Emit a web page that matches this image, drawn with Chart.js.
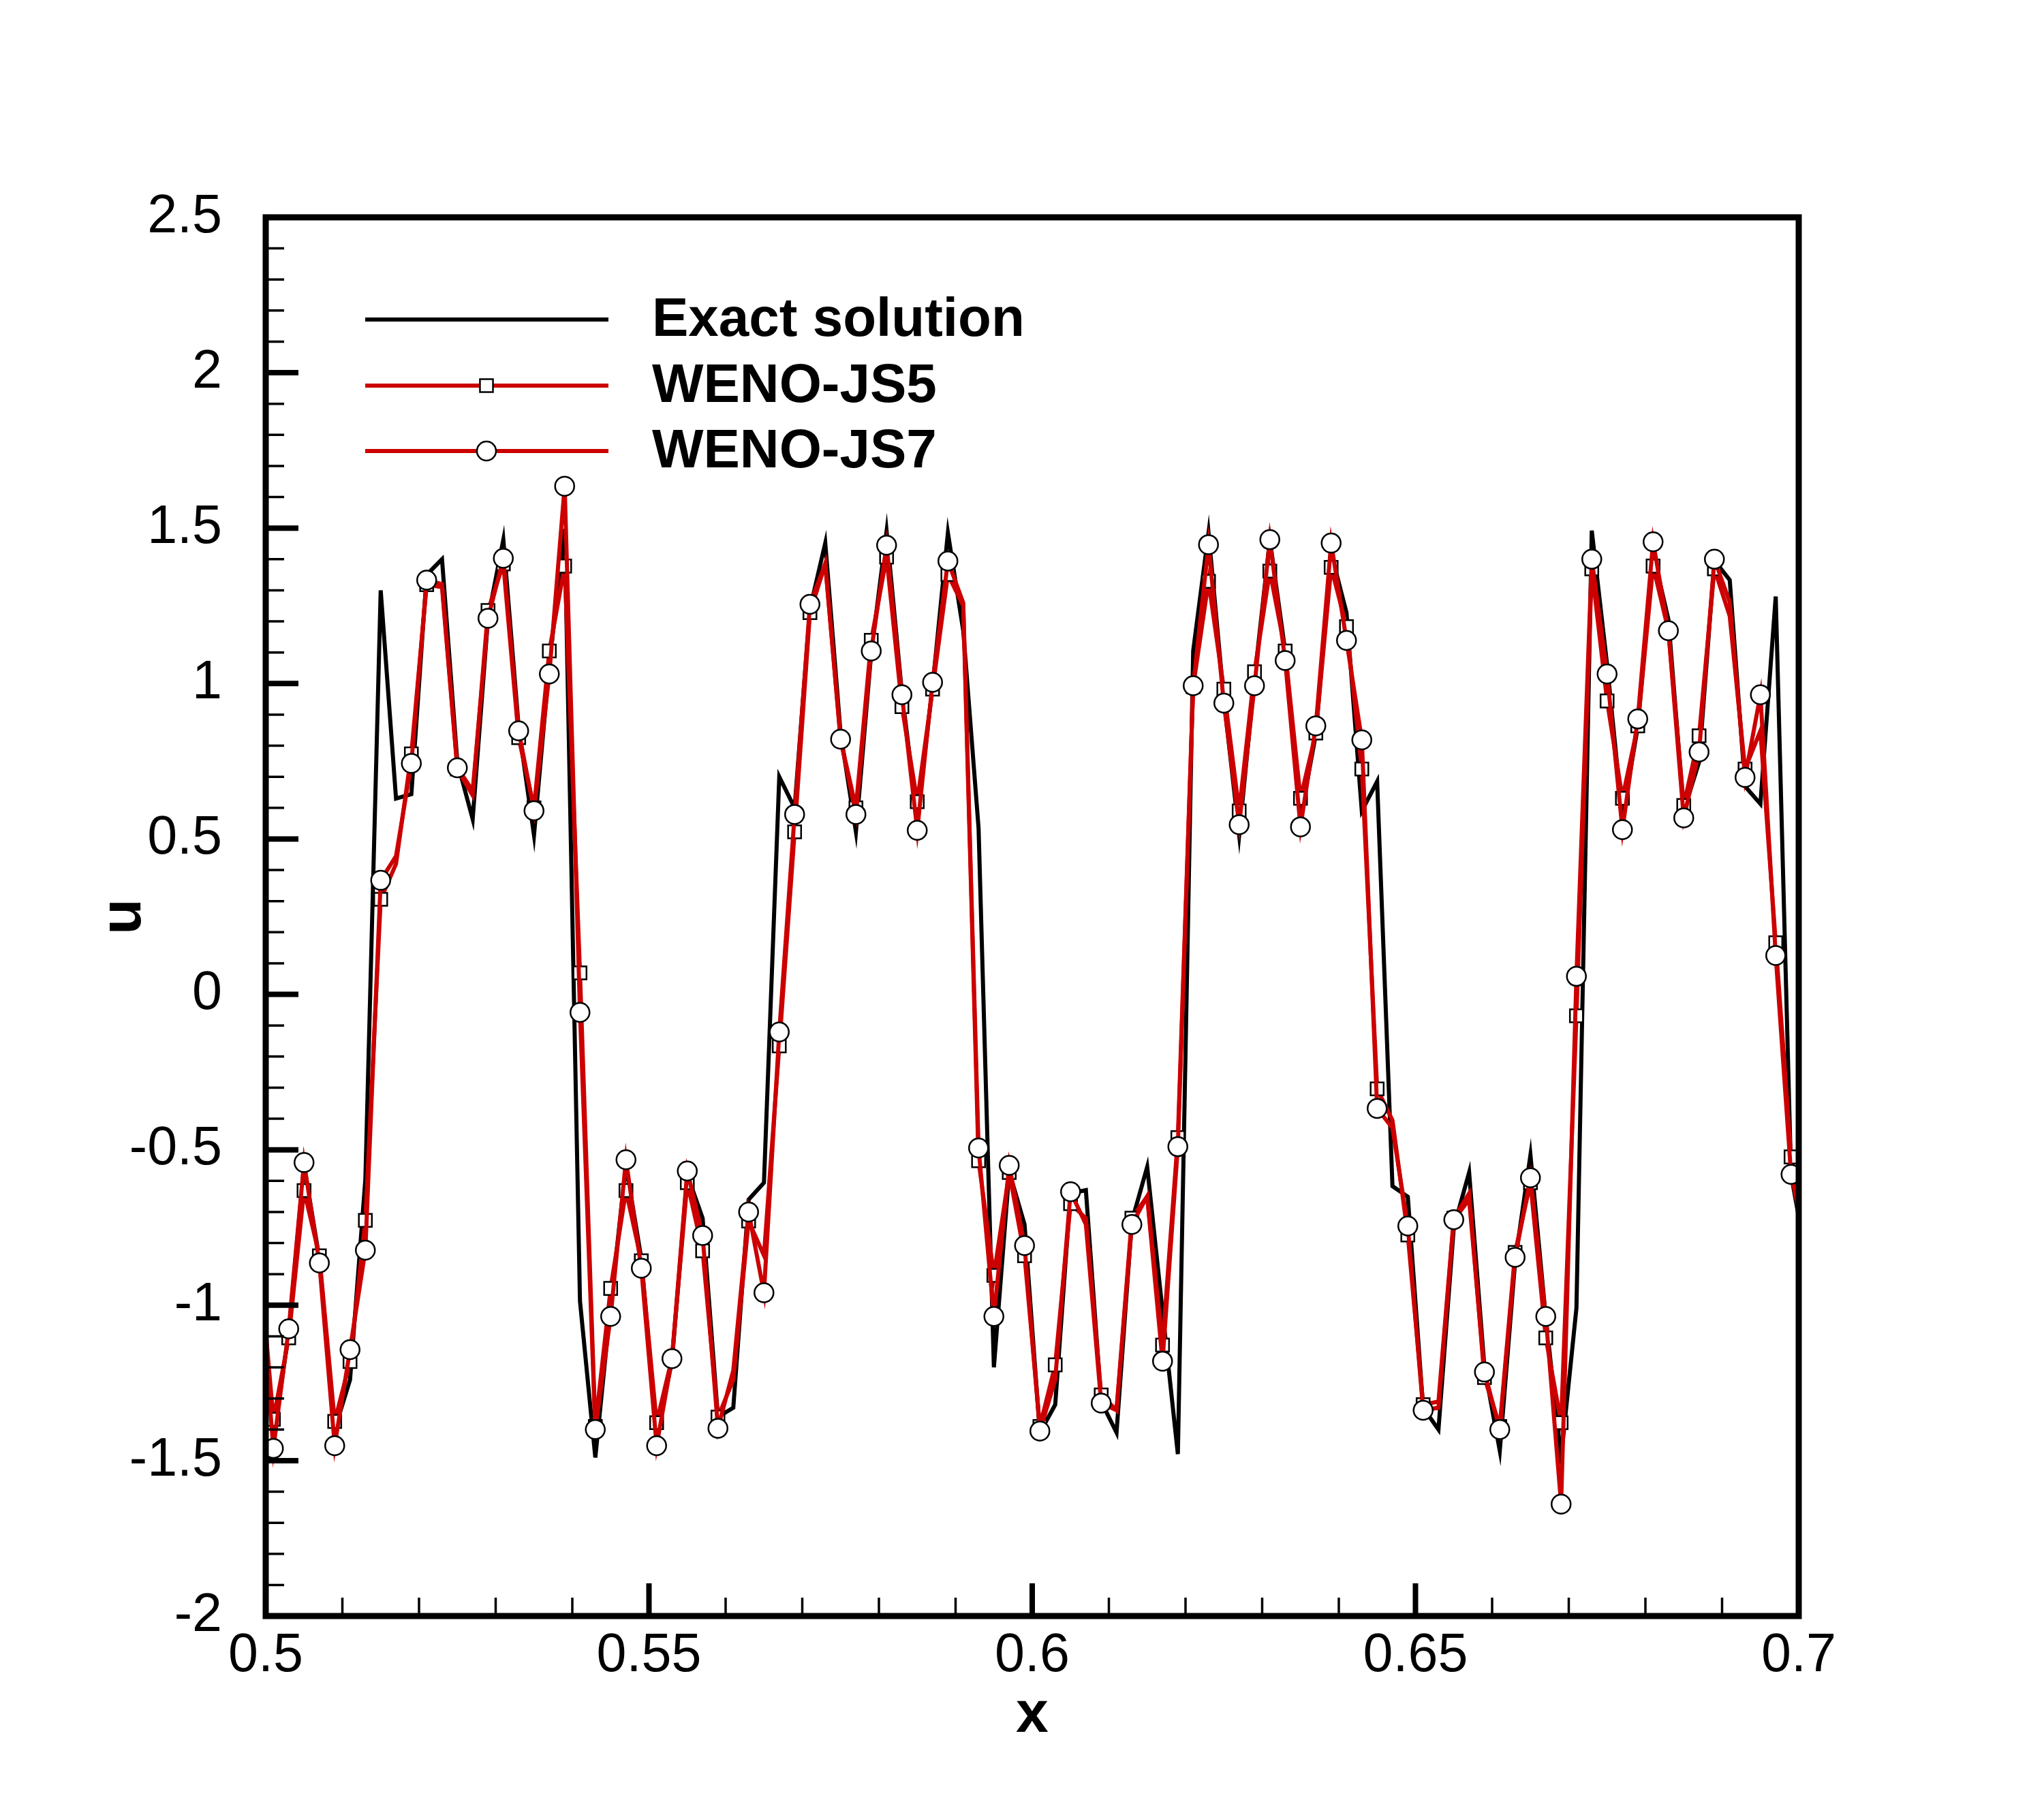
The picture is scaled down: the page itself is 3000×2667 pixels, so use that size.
<!DOCTYPE html>
<html>
<head>
<meta charset="utf-8">
<title>u vs x</title>
<script src="https://cdn.jsdelivr.net/npm/chart.js@4.4.1/dist/chart.umd.min.js"></script>
<style>
  html, body { margin: 0; padding: 0; background: #fff; }
  canvas { display: block; }
</style>
</head>
<body>
<canvas id="uChart" width="3000" height="2667"></canvas>
<script>
// Cell centres (one cell beyond each edge so the lines run into the frame).
const xs = [
  0.499, 0.501, 0.503, 0.505, 0.507, 0.509, 0.511, 0.513, 0.515, 0.517, 0.519,
  0.521, 0.523, 0.525, 0.527, 0.529, 0.531, 0.533, 0.535, 0.537, 0.539,
  0.541, 0.543, 0.545, 0.547, 0.549, 0.551, 0.553, 0.555, 0.557, 0.559,
  0.561, 0.563, 0.565, 0.567, 0.569, 0.571, 0.573, 0.575, 0.577, 0.579,
  0.581, 0.583, 0.585, 0.587, 0.589, 0.591, 0.593, 0.595, 0.597, 0.599,
  0.601, 0.603, 0.605, 0.607, 0.609, 0.611, 0.613, 0.615, 0.617, 0.619,
  0.621, 0.623, 0.625, 0.627, 0.629, 0.631, 0.633, 0.635, 0.637, 0.639,
  0.641, 0.643, 0.645, 0.647, 0.649, 0.651, 0.653, 0.655, 0.657, 0.659,
  0.661, 0.663, 0.665, 0.667, 0.669, 0.671, 0.673, 0.675, 0.677, 0.679,
  0.681, 0.683, 0.685, 0.687, 0.689, 0.691, 0.693, 0.695, 0.697, 0.699,
  0.701
];

const exactU = [
  -0.85,
  -1.43, -1.09, -0.55, -0.85, -1.40, -1.24, -0.595, 1.30, 0.63, 0.644,
  1.35, 1.40, 0.747, 0.564, 1.21, 1.463, 0.86, 0.512, 1.06, 1.497,
  -0.987, -1.49, -1.0, -0.55, -0.85, -1.42, -1.18, -0.58, -0.72, -1.36,
  -1.33, -0.66, -0.606, 0.70, 0.60, 1.24, 1.452, 0.84, 0.523, 1.1,
  1.49, 0.97, 0.57, 0.99, 1.485, 1.17, 0.535, -1.2, -0.57, -0.74,
  -1.41, -1.32, -0.64, -0.63, -1.31, -1.41, -0.73, -0.555, -1.02, -1.479,
  1.105, 1.485, 0.95, 0.512, 1.015, 1.463, 1.105, 0.568, 0.837, 1.42,
  1.228, 0.59, 0.685, -0.617, -0.651, -1.33, -1.40, -0.75, -0.573, -1.2,
  -1.468, -0.86, -0.517, -1.04, -1.49, -1.009, 1.492, 1.06, 0.568, 0.86,
  1.42, 1.206, 0.59, 0.747, 1.396, 1.333, 0.669, 0.613, 1.28, -0.58,
  -0.85
];

const wenoJS5 = [
  -0.80,
  -1.367, -1.105, -0.631, -0.841, -1.374, -1.181, -0.727, 0.306, 0.42, 0.774,
  1.318, 1.31, 0.725, 0.64, 1.235, 1.385, 0.826, 0.60, 1.105, 1.378,
  0.069, -1.39, -0.946, -0.631, -0.857, -1.378, -1.17, -0.606, -0.825, -1.36,
  -1.24, -0.729, -0.84, -0.166, 0.523, 1.228, 1.385, 0.82, 0.60, 1.139,
  1.407, 0.926, 0.62, 0.982, 1.351, 1.25, -0.535, -0.904, -0.573, -0.841,
  -1.39, -1.192, -0.673, -0.72, -1.289, -1.338, -0.72, -0.65, -1.128, -0.461,
  0.99, 1.329, 0.982, 0.59, 1.038, 1.362, 1.105, 0.631, 0.841, 1.374,
  1.183, 0.725, -0.304, -0.405, -0.774, -1.32, -1.31, -0.72, -0.64, -1.233,
  -1.39, -0.83, -0.606, -1.105, -1.378, -0.069, 1.369, 0.944, 0.631, 0.864,
  1.378, 1.17, 0.608, 0.832, 1.369, 1.217, 0.725, 0.848, 0.166, -0.523,
  -0.80
];

const wenoJS7 = [
  -0.85,
  -1.461, -1.076, -0.541, -0.864, -1.452, -1.143, -0.823, 0.367, 0.445, 0.743,
  1.333, 1.32, 0.729, 0.655, 1.21, 1.403, 0.848, 0.591, 1.031, 1.635,
  -0.058, -1.40, -1.036, -0.532, -0.881, -1.452, -1.172, -0.568, -0.776, -1.396,
  -1.21, -0.70, -0.96, -0.121, 0.579, 1.255, 1.385, 0.821, 0.579, 1.105,
  1.445, 0.964, 0.528, 1.004, 1.394, 1.26, -0.494, -1.036, -0.55, -0.808,
  -1.405, -1.24, -0.635, -0.74, -1.315, -1.338, -0.74, -0.65, -1.18, -0.49,
  0.993, 1.447, 0.937, 0.546, 0.993, 1.463, 1.074, 0.539, 0.864, 1.452,
  1.139, 0.819, -0.367, -0.43, -0.745, -1.338, -1.33, -0.725, -0.66, -1.215,
  -1.40, -0.846, -0.59, -1.036, -1.64, 0.058, 1.40, 1.031, 0.53, 0.886,
  1.456, 1.17, 0.568, 0.78, 1.40, 1.262, 0.698, 0.964, 0.125, -0.579,
  -0.80
];

// Points where the plot shows no symbol (symbol skipping in the original).
const js5NoMark = [0.499, 0.517, 0.523, 0.527, 0.561, 0.565, 0.573, 0.591, 0.607,
  0.611, 0.615, 0.647, 0.653, 0.657, 0.691, 0.695, 0.701];
const js7NoMark = [0.499, 0.517, 0.523, 0.527, 0.561, 0.573, 0.591, 0.603, 0.607,
  0.611, 0.615, 0.647, 0.653, 0.657, 0.691, 0.701];

const seriesNames = ['Exact solution', 'WENO-JS5', 'WENO-JS7'];
const xTicks = [0.5, 0.55, 0.6, 0.65, 0.7];
const xTickLabels = ['0.5', '0.55', '0.6', '0.65', '0.7'];
const yTicks = [-2, -1.5, -1, -0.5, 0, 0.5, 1, 1.5, 2, 2.5];
const yTickLabels = ['-2', '-1.5', '-1', '-0.5', '0', '0.5', '1', '1.5', '2', '2.5'];

const RED = '#cc0000';
const FONT = '"Liberation Sans", Arial, Helvetica, sans-serif';

function pts(vals) {
    return xs.map((x, i) => ({ x: x, y: vals[i] }));
}

// Frame with inward major/minor ticks on the left and bottom edges.
const framePlugin = {
    id: 'frame',
    afterDatasetsDraw(chart) {
        const { ctx, chartArea: a, scales } = chart;
        const sx = scales.x, sy = scales.y;
        ctx.save();
        ctx.strokeStyle = '#000';
        ctx.lineCap = 'butt';

        // minor ticks
        ctx.lineWidth = 3.5;
        ctx.beginPath();
        for (let i = 0; i <= 20; i++) {
            if (i % 5 === 0) continue;
            const px = sx.getPixelForValue(0.5 + i * 0.01);
            ctx.moveTo(px, a.bottom);
            ctx.lineTo(px, a.bottom - 27);
        }
        for (let i = 0; i <= 45; i++) {
            if (i % 5 === 0) continue;
            const py = sy.getPixelForValue(-2 + i * 0.1);
            ctx.moveTo(a.left, py);
            ctx.lineTo(a.left + 27, py);
        }
        ctx.stroke();

        // major ticks
        ctx.lineWidth = 8;
        ctx.beginPath();
        xTicks.forEach(v => {
            const px = sx.getPixelForValue(v);
            ctx.moveTo(px, a.bottom);
            ctx.lineTo(px, a.bottom - 48);
        });
        yTicks.forEach(v => {
            const py = sy.getPixelForValue(v);
            ctx.moveTo(a.left, py);
            ctx.lineTo(a.left + 48, py);
        });
        ctx.stroke();

        // box
        ctx.lineWidth = 9;
        ctx.lineJoin = 'miter';
        ctx.strokeRect(a.left, a.top, a.right - a.left, a.bottom - a.top);
        ctx.restore();
    }
};

// Tecplot-style legend: long line sample, symbol in its middle, bold label.
const legendPlugin = {
    id: 'sampleLegend',
    afterDraw(chart) {
        const { ctx, chartArea: a } = chart;
        const x0 = a.left + 146, x1 = a.left + 503, xm = a.left + 324, xt = a.left + 567;
        const rows = [a.top + 150, a.top + 247, a.top + 343];
        ctx.save();
        chart.data.datasets.forEach((ds, i) => {
            const y = rows[i];
            ctx.strokeStyle = ds.borderColor;
            ctx.lineWidth = ds.borderWidth;
            ctx.beginPath();
            ctx.moveTo(x0, y);
            ctx.lineTo(x1, y);
            ctx.stroke();
            if (ds.legendMarker) {
                ctx.fillStyle = '#fff';
                ctx.strokeStyle = '#000';
                ctx.lineWidth = 2.5;
                ctx.beginPath();
                if (ds.legendMarker === 'rect') {
                    const h = 13.5 * Math.SQRT1_2;
                    ctx.rect(xm - h, y - h, 2 * h, 2 * h);
                } else {
                    ctx.arc(xm, y, 14, 0, Math.PI * 2);
                }
                ctx.fill();
                ctx.stroke();
            }
            ctx.fillStyle = '#000';
            ctx.font = 'bold 80px ' + FONT;
            ctx.textAlign = 'left';
            ctx.textBaseline = 'middle';
            ctx.fillText(ds.label, xt, y + 2);
        });
        ctx.restore();
    }
};

function initChart() {
    const canvas = document.getElementById('uChart');
    const tickFont = { family: FONT, size: 79 };
    const titleFont = { family: FONT, size: 86, weight: 'bold' };

    new Chart(canvas, {
        type: 'line',
        data: {
            datasets: [
                {
                    label: seriesNames[0],
                    data: pts(exactU),
                    borderColor: '#000',
                    borderWidth: 6,
                    pointRadius: 0,
                    tension: 0,
                    order: 3
                },
                {
                    label: seriesNames[1],
                    data: pts(wenoJS5),
                    borderColor: RED,
                    borderWidth: 6,
                    pointStyle: 'rect',
                    pointRadius: c => (js5NoMark.includes(xs[c.dataIndex]) ? 0 : 13.5),
                    pointBackgroundColor: '#fff',
                    pointBorderColor: '#000',
                    pointBorderWidth: 2.5,
                    tension: 0,
                    order: 2,
                    legendMarker: 'rect'
                },
                {
                    label: seriesNames[2],
                    data: pts(wenoJS7),
                    borderColor: RED,
                    borderWidth: 6,
                    pointStyle: 'circle',
                    pointRadius: c => (js7NoMark.includes(xs[c.dataIndex]) ? 0 : 14),
                    pointBackgroundColor: '#fff',
                    pointBorderColor: '#000',
                    pointBorderWidth: 2.5,
                    tension: 0,
                    order: 1,
                    legendMarker: 'circle'
                }
            ]
        },
        options: {
            responsive: false,
            animation: false,
            devicePixelRatio: 1,
            events: [],
            layout: { padding: { left: 0, right: 360, top: 319, bottom: 0 } },
            plugins: {
                legend: { display: false },
                tooltip: { enabled: false }
            },
            scales: {
                x: {
                    type: 'linear',
                    min: 0.5,
                    max: 0.7,
                    afterBuildTicks: s => { s.ticks = xTicks.map(v => ({ value: v })); },
                    afterFit: s => { s.height = 295; },
                    grid: { display: false, drawTicks: false },
                    border: { display: false },
                    ticks: {
                        color: '#000',
                        font: tickFont,
                        padding: 12,
                        maxRotation: 0,
                        autoSkip: false,
                        callback: (v, i) => xTickLabels[i]
                    },
                    title: {
                        display: true,
                        text: 'x',
                        color: '#000',
                        font: titleFont,
                        padding: { top: 0, bottom: 97 }
                    }
                },
                y: {
                    type: 'linear',
                    min: -2,
                    max: 2.5,
                    afterBuildTicks: s => { s.ticks = yTicks.map(v => ({ value: v })); },
                    afterFit: s => { s.width = 390; },
                    grid: { display: false, drawTicks: false },
                    border: { display: false },
                    ticks: {
                        color: '#000',
                        font: tickFont,
                        padding: 64,
                        autoSkip: false,
                        callback: (v, i) => yTickLabels[i]
                    },
                    title: {
                        display: true,
                        text: 'u',
                        color: '#000',
                        font: titleFont,
                        padding: { top: 131, bottom: 0 }
                    }
                }
            }
        },
        plugins: [framePlugin, legendPlugin]
    });
}

if (document.readyState !== 'loading') {
    initChart();
} else {
    document.addEventListener('DOMContentLoaded', initChart);
}
</script>
</body>
</html>
